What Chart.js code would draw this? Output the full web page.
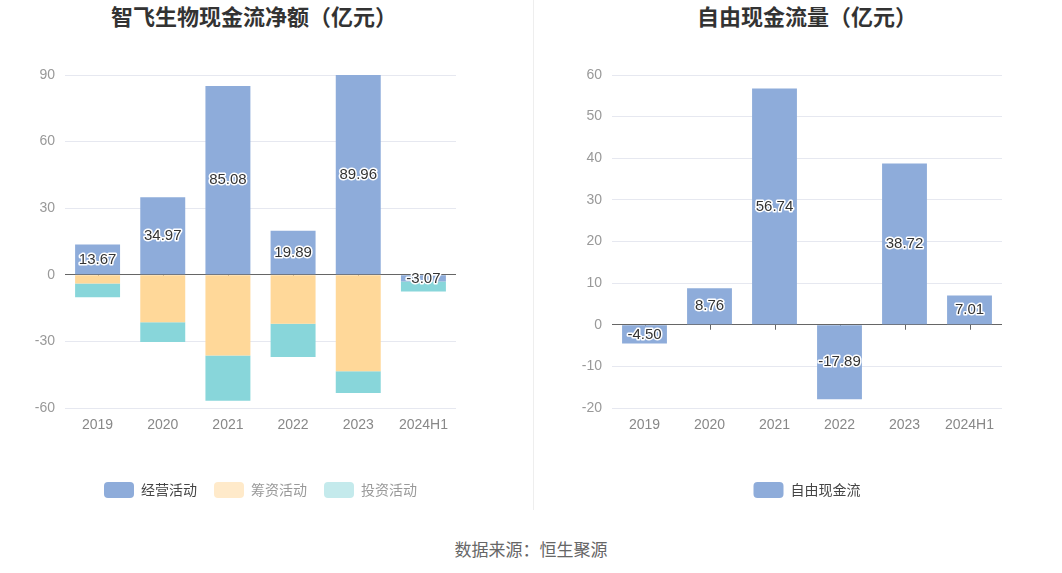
<!DOCTYPE html>
<html>
<head>
<meta charset="utf-8">
<script src="https://cdn.jsdelivr.net/npm/chart.js@4.4.1/dist/chart.umd.min.js"></script>
<style>
  body { margin: 0; background: #fff; width: 1062px; height: 573px; position: relative; overflow: hidden;
         font-family: "Noto Sans CJK SC", sans-serif; }
  .title { position: absolute; top: -1px; font-size: 22px; font-weight: bold; color: #333; text-align: center; width: 400px; }
  .box { position: absolute; top: 0; width: 531px; height: 520px; }
  .divider { position: absolute; left: 533px; top: 0; width: 1px; height: 510px; background: #eee; }
  .source { position: absolute; top: 536px; left: 0; width: 1062px; text-align: center; font-size: 17px; color: #666; }
</style>
</head>
<body>
<div class="title" style="left:54px">智飞生物现金流净额（亿元）</div>
<div class="title" style="left:607px">自由现金流量（亿元）</div>
<div class="divider"></div>
<div class="box" style="left:0"><canvas id="flowChart" width="531" height="520"></canvas></div>
<div class="box" style="left:531px"><canvas id="fcfChart" width="531" height="520"></canvas></div>
<div class="source">数据来源：恒生聚源</div>

<script>
const years = ['2019', '2020', '2021', '2022', '2023', '2024H1'];
const operating = [13.67, 34.97, 85.08, 19.89, 89.96, -3.07];
const financing = [-3.9, -21.4, -36.4, -22.0, -43.5, 0];
const investing = [-6.2, -8.9, -20.3, -15.0, -9.7, -4.5];
const freeCashFlow = [-4.50, 8.76, 56.74, -17.89, 38.72, 7.01];

const flowTicks = [-60, -30, 0, 30, 60, 90];
const fcfTicks = [-20, -10, 0, 10, 20, 30, 40, 50, 60];

const BLUE = 'rgb(142,172,218)';
const YELLOW = 'rgb(255,216,153)';
const TEAL = 'rgb(136,214,218)';

// value labels in the middle of each bar, white halo
const barLabels = {
    id: 'barLabels',
    afterDatasetsDraw(chart) {
        const ctx = chart.ctx;
        ctx.save();
        ctx.font = '15px "Liberation Sans", Arial, sans-serif';
        ctx.textAlign = 'center';
        ctx.textBaseline = 'middle';
        ctx.lineJoin = 'round';
        chart.data.datasets.forEach((ds, i) => {
            if (!ds.showLabel) return;
            chart.getDatasetMeta(i).data.forEach((bar, j) => {
                const text = ds.data[j].toFixed(2);
                const y = (bar.y + bar.base) / 2;
                ctx.strokeStyle = '#fff';
                ctx.lineWidth = 3;
                ctx.strokeText(text, bar.x, y);
                ctx.fillStyle = '#333';
                ctx.fillText(text, bar.x, y);
            });
        });
        ctx.restore();
    }
};

// small tick marks hanging from the zero line
const zeroTicks = {
    id: 'zeroTicks',
    beforeDatasetsDraw(chart) {
        const ctx = chart.ctx;
        const y0 = chart.scales.y.getPixelForValue(0);
        const x = chart.scales.x;
        ctx.save();
        ctx.strokeStyle = '#666';
        ctx.lineWidth = 1;
        x.ticks.forEach((t, i) => {
            const px = Math.round(x.getPixelForTick(i)) + 0.5;
            ctx.beginPath();
            ctx.moveTo(px, y0);
            ctx.lineTo(px, y0 + 5);
            ctx.stroke();
        });
        ctx.restore();
    }
};

function makeOptions(min, max, tickList, axisWidth, padRight, legendColors) {
    return {
        responsive: false,
        animation: false,
        layout: { padding: { top: 75, left: 0, right: padRight, bottom: 12 } },
        plugins: {
            tooltip: { enabled: false },
            legend: {
                position: 'bottom',
                fullSize: false,
                labels: {
                    boxWidth: 30,
                    boxHeight: 16,
                    useBorderRadius: true,
                    borderRadius: 4,
                    padding: 17,
                    font: { size: 14, family: '"Noto Sans CJK SC", sans-serif' },
                    generateLabels(chart) {
                        return chart.data.datasets.map((ds, i) => ({
                            text: ds.label,
                            fillStyle: legendColors[i].box,
                            strokeStyle: legendColors[i].box,
                            lineWidth: 0,
                            fontColor: legendColors[i].text,
                            borderRadius: 4,
                            datasetIndex: i
                        }));
                    }
                }
            }
        },
        scales: {
            x: {
                stacked: true,
                grid: { display: false, drawTicks: false },
                border: { display: false },
                ticks: { color: '#888', padding: 9, font: { size: 14, family: '"Liberation Sans", Arial, sans-serif' } },
                afterFit(scale) { scale.height = 57; }
            },
            y: {
                stacked: true,
                min: min,
                max: max,
                afterBuildTicks(scale) { scale.ticks = tickList.map(v => ({ value: v })); },
                grid: {
                    color: c => c.tick && c.tick.value === 0 ? '#666' : '#E6E8F0',
                    drawTicks: false
                },
                border: { display: false },
                ticks: { color: '#999', padding: 10, font: { size: 14, family: '"Liberation Sans", Arial, sans-serif' } },
                afterFit(scale) { scale.width = axisWidth; }
            }
        }
    };
}

new Chart(document.getElementById('flowChart'), {
    type: 'bar',
    data: {
        labels: years,
        datasets: [
            { label: '经营活动', data: operating, backgroundColor: BLUE, barPercentage: 0.69, categoryPercentage: 1, showLabel: true },
            { label: '筹资活动', data: financing, backgroundColor: YELLOW, barPercentage: 0.69, categoryPercentage: 1 },
            { label: '投资活动', data: investing, backgroundColor: TEAL, barPercentage: 0.69, categoryPercentage: 1 }
        ]
    },
    options: makeOptions(-60, 90, flowTicks, 65, 75, [
        { box: BLUE, text: '#444' },
        { box: 'rgb(255,234,202)', text: '#999' },
        { box: 'rgb(196,234,236)', text: '#999' }
    ]),
    plugins: [zeroTicks, barLabels]
});

new Chart(document.getElementById('fcfChart'), {
    type: 'bar',
    data: {
        labels: years,
        datasets: [
            { label: '自由现金流', data: freeCashFlow, backgroundColor: BLUE, barPercentage: 0.69, categoryPercentage: 1, showLabel: true }
        ]
    },
    options: makeOptions(-20, 60, fcfTicks, 81, 60, [
        { box: BLUE, text: '#444' }
    ]),
    plugins: [zeroTicks, barLabels]
});
</script>
</body>
</html>
